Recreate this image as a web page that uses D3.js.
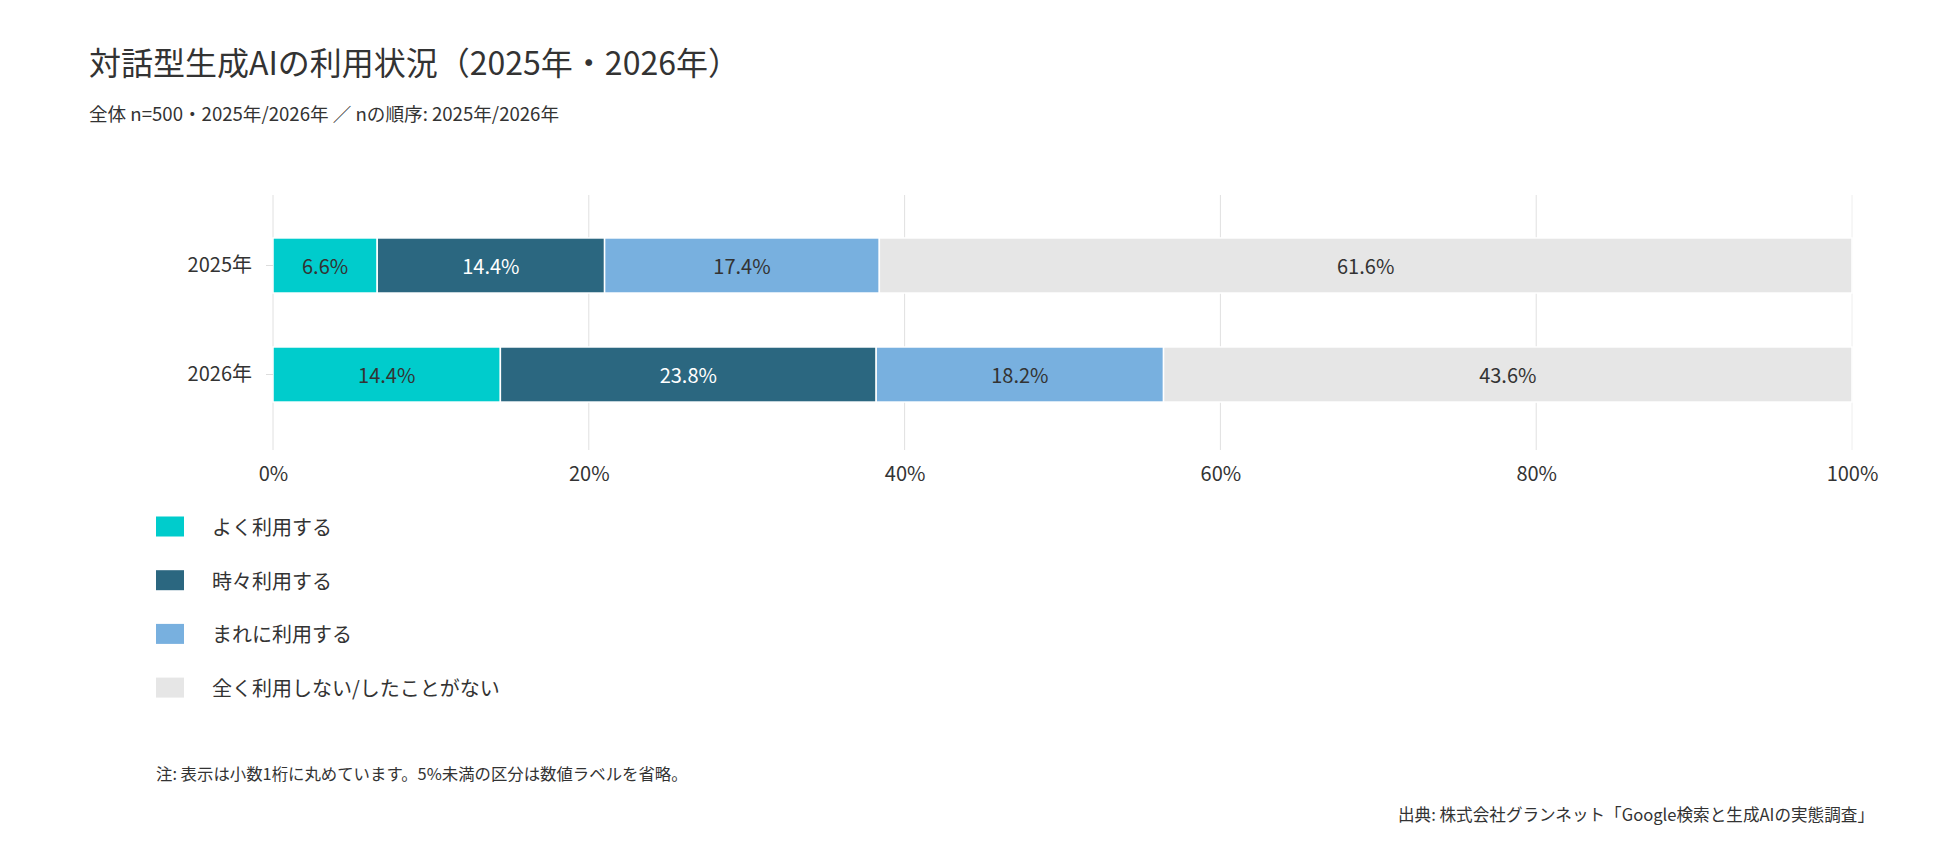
<!DOCTYPE html>
<html>
<head>
<meta charset="utf-8">
<script src="https://cdn.jsdelivr.net/npm/d3@7"></script>
<style>
  body { margin: 0; background: #fff; }
  svg { display: block; font-family: "Noto Sans CJK JP", "Noto Sans", sans-serif; }
  .title { font-size: 32px; fill: #333; }
  .subtitle { font-size: 18.6px; fill: #333; }
  .axis text { font-size: 20px; fill: #333; font-family: "Noto Sans CJK JP", sans-serif; }
  .axis path { display: none; }
  .axis line { stroke: #ddd; }
  .bar_label { font-size: 20px; }
  .legend_text { font-size: 20px; fill: #333; }
  .note { font-size: 16.4px; fill: #333; }
  .source { font-size: 16.6px; fill: #333; }
</style>
</head>
<body>
<script>
var years = ["2025年", "2026年"];
var categories = ["よく利用する", "時々利用する", "まれに利用する", "全く利用しない/したことがない"];
var often_use = [6.6, 14.4];
var sometimes_use = [14.4, 23.8];
var rarely_use = [17.4, 18.2];
var never_use = [61.6, 43.6];
var x_ticks = [0, 20, 40, 60, 80, 100];
var colors = ["#00cccc", "#2b6780", "#78b0df", "#e6e6e6"];
var label_colors = ["#333", "#fff", "#333", "#333"];

var chart = {};

(function(self){
    var width = 1950,
        height = 853;

    // plot area
    var left = 273, right = 1852,
        top = 195, bottom = 450;

    self.rows = function(){
        var series = [often_use, sometimes_use, rarely_use, never_use];
        return years.map(function(y, i){
            var row = {year: y};
            categories.forEach(function(c, j){ row[c] = series[j][i]; });
            return row;
        });
    };

    self.draw = function(){
        var svg = d3.select("body")
                .append("svg")
                .attr("width", width)
                .attr("height", height);

        var scale_x = d3.scaleLinear()
                .domain([0, 100])
                .range([left, right]);

        var scale_y = d3.scaleBand()
                .domain(years)
                .range([top, top + 250])
                .paddingInner(0.495)
                .paddingOuter(0.394);

        // grid lines
        svg.append("g")
                .selectAll("line")
                .data(x_ticks)
                .join("line")
                .attr("x1", function(d){ return scale_x(d); })
                .attr("x2", function(d){ return scale_x(d); })
                .attr("y1", top)
                .attr("y2", bottom)
                .style("stroke", function(d){ return d === 100 ? "#eee" : "#e0e0e0"; })
                .style("stroke-width", 1);

        var stacked = d3.stack().keys(categories)(self.rows());

        var groups = svg.append("g")
                .selectAll("g")
                .data(stacked)
                .join("g")
                .attr("fill", function(d, i){ return colors[i]; });

        groups.selectAll("rect")
                .data(function(d){ return d; })
                .join("rect")
                .attr("x", function(d){ return scale_x(d[0]); })
                .attr("y", function(d){ return scale_y(d.data.year); })
                .attr("width", function(d){ return scale_x(d[1]) - scale_x(d[0]); })
                .attr("height", scale_y.bandwidth())
                .style("stroke", "#fff")
                .style("stroke-width", 1.5);

        // value labels (under 5% omitted)
        groups.each(function(s, i){
            d3.select(this).selectAll("text")
                    .data(s.filter(function(d){ return d[1] - d[0] >= 5; }))
                    .join("text")
                    .attr("class", "bar_label")
                    .attr("x", function(d){ return (scale_x(d[0]) + scale_x(d[1])) / 2; })
                    .attr("y", function(d){ return scale_y(d.data.year) + scale_y.bandwidth() / 2; })
                    .attr("text-anchor", "middle")
                    .attr("dominant-baseline", "central")
                    .attr("fill", label_colors[i])
                    .text(function(d){ return (d[1] - d[0]).toFixed(1) + "%"; });
        });

        // x-axis
        svg.append("g")
                .attr("class", "axis")
                .attr("transform", "translate(0," + bottom + ")")
                .call(d3.axisBottom(scale_x)
                        .tickValues(x_ticks)
                        .tickSize(0)
                        .tickPadding(17)
                        .tickFormat(function(d){ return d + "%"; }));

        // y-axis
        svg.append("g")
                .attr("class", "axis")
                .attr("transform", "translate(" + left + ",0)")
                .call(d3.axisLeft(scale_y)
                        .tickSize(7)
                        .tickPadding(14));

        // title
        svg.append("text")
                .attr("class", "title")
                .attr("x", 89)
                .attr("y", 61)
                .attr("dominant-baseline", "central")
                .text("対話型生成AIの利用状況（2025年・2026年）");

        svg.append("text")
                .attr("class", "subtitle")
                .attr("x", 89)
                .attr("y", 112)
                .attr("dominant-baseline", "central")
                .text("全体 n=500・2025年/2026年 ／ nの順序: 2025年/2026年");

        // legend
        var legend = svg.append("g")
                .selectAll("g")
                .data(categories)
                .join("g")
                .attr("transform", function(d, i){ return "translate(156," + (526.5 + i * 53.7) + ")"; });

        legend.append("rect")
                .attr("x", 0)
                .attr("y", -10)
                .attr("width", 28)
                .attr("height", 20)
                .attr("fill", function(d, i){ return colors[i]; });

        legend.append("text")
                .attr("class", "legend_text")
                .attr("x", 56)
                .attr("y", 0)
                .attr("dominant-baseline", "central")
                .text(function(d){ return d; });

        // notes
        svg.append("text")
                .attr("class", "note")
                .attr("x", 156)
                .attr("y", 773)
                .attr("dominant-baseline", "central")
                .text("注: 表示は小数1桁に丸めています。5%未満の区分は数値ラベルを省略。");

        svg.append("text")
                .attr("class", "source")
                .attr("x", 1874)
                .attr("y", 814)
                .attr("text-anchor", "end")
                .attr("dominant-baseline", "central")
                .text("出典: 株式会社グランネット「Google検索と生成AIの実態調査」");
    };

}(chart));

chart.draw();
</script>
</body>
</html>
